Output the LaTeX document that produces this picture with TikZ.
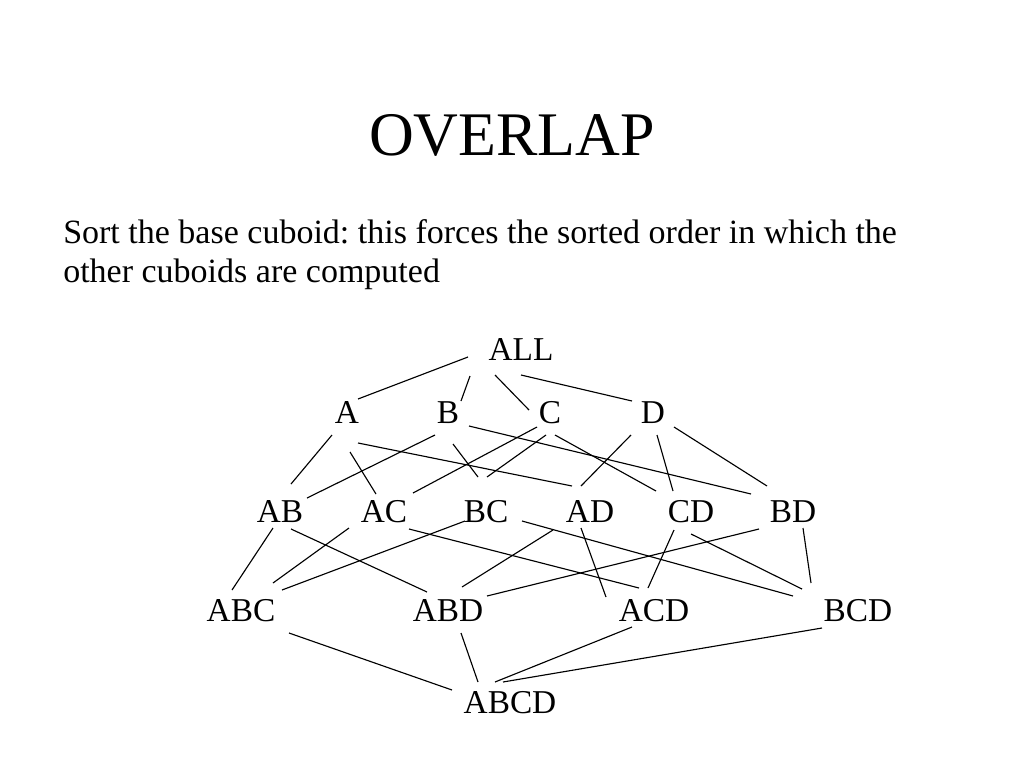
\documentclass[tikz,border=0pt]{standalone}
\usepackage{fontspec}
\setmainfont{Liberation Serif}
\frenchspacing
\newcommand\lnk[4]{\draw[edge] ([shift={(#2)}]#1.base) -- ([shift={(#4)}]#3.base);}
\begin{document}
\begin{tikzpicture}[x=0.75pt,y=-0.75pt,
  lbl/.style={inner sep=0pt, anchor=base, font=\fontsize{25pt}{28pt}\selectfont},
  bodytext/.style={inner sep=0pt, anchor=base west, font=\fontsize{25.5pt}{29pt}\selectfont},
  edge/.style={line width=0.85pt, black}]
\useasboundingbox (0,0) rectangle (1024,768);
\node[inner sep=0pt, anchor=base, font=\fontsize{46.5pt}{50pt}\selectfont] (title) at (512,155) {OVERLAP};
\node[bodytext] (body1) at (63,243) {Sort the base cuboid: this forces the sorted order in which the};
\node[bodytext] (body2) at (63,282) {other cuboids are computed};

\node[lbl] (ALL) at (521,360) {ALL};
\node[lbl] (A) at (347,423) {A};
\node[lbl] (B) at (448,423) {B};
\node[lbl] (C) at (550,423) {C};
\node[lbl] (D) at (653,423) {D};
\node[lbl] (AB) at (280,522) {AB};
\node[lbl] (AC) at (384,522) {AC};
\node[lbl] (BC) at (486,522) {BC};
\node[lbl] (AD) at (590,522) {AD};
\node[lbl] (CD) at (691,522) {CD};
\node[lbl] (BD) at (793,522) {BD};
\node[lbl] (ABC) at (241,621) {ABC};
\node[lbl] (ABD) at (448,621) {ABD};
\node[lbl] (ACD) at (654,621) {ACD};
\node[lbl] (BCD) at (858,621) {BCD};
\node[lbl] (ABCD) at (510,713) {ABCD};

\lnk{ALL}{-53,-3}{A}{11,-24}
\lnk{ALL}{-51,16}{B}{13,-22}
\lnk{ALL}{-26,15}{C}{-21,-13}
\lnk{ALL}{0,15}{D}{-21,-22}

\lnk{A}{-15,12}{AB}{11,-38}
\lnk{A}{3,29}{AC}{-8,-28}
\lnk{A}{11,20}{AD}{-18,-36}
\lnk{B}{-13,12}{AB}{27,-24}
\lnk{B}{5,21}{BC}{-8,-45}
\lnk{B}{21,3}{BD}{-42,-28}
\lnk{C}{-13,4}{AC}{29,-29}
\lnk{C}{-4,12}{BC}{1,-45}
\lnk{C}{5,12}{CD}{-35,-31}
\lnk{D}{-22,12}{AD}{-9,-36}
\lnk{D}{4,12}{CD}{-18,-31}
\lnk{D}{21,4}{BD}{-26,-36}

\lnk{AB}{-7,6}{ABC}{-9,-31}
\lnk{AB}{11,7}{ABD}{-21,-29}
\lnk{AC}{-35,6}{ABC}{32,-38}
\lnk{AC}{25,7}{ACD}{-15,-33}
\lnk{BC}{-21,-1}{ABC}{41,-31}
\lnk{BC}{36,-1}{BCD}{-65,-25}
\lnk{AD}{-37,8}{ABD}{14,-34}
\lnk{AD}{-9,6}{ACD}{-48,-24}
\lnk{CD}{-17,8}{ACD}{-6,-33}
\lnk{CD}{0,12}{BCD}{-56,-32}
\lnk{BD}{-34,7}{ABD}{39,-25}
\lnk{BD}{10,6}{BCD}{-47,-38}

\lnk{ABC}{48,12}{ABCD}{-58,-23}
\lnk{ABD}{13,12}{ABCD}{-32,-31}
\lnk{ACD}{-22,6}{ABCD}{-15,-31}
\lnk{BCD}{-36,7}{ABCD}{-7,-31}
\end{tikzpicture}
\end{document}
